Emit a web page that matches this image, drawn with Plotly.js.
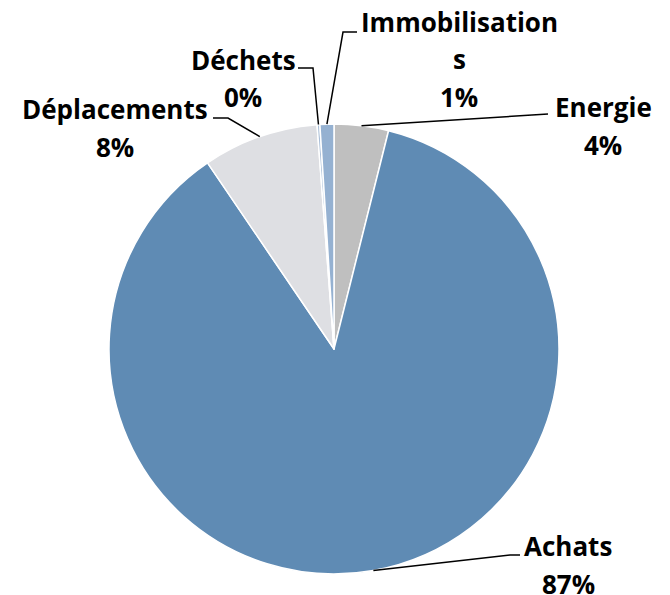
<!DOCTYPE html>
<html>
<head>
<meta charset="utf-8">
<script src="https://cdn.plot.ly/plotly-3.0.1.min.js"></script>
<style>html,body{margin:0;padding:0;background:#fff;}#chart{width:670px;height:595px;}</style>
</head>
<body>
<div id="chart"></div>
<script>
// ---- data ----
const categories = ['Energie', 'Achats', 'Déplacements', 'Déchets', 'Immobilisations'];
const values = [3.9, 86.6, 8.3, 0.2, 1.0];
const labelLines = [['Energie'], ['Achats'], ['Déplacements'], ['Déchets'], ['Immobilisation', 's']];
const colors = ['#BFBFBF', '#5F8BB4', '#DEDFE3', '#A9BED7', '#95B1D1'];

// ---- layout config (pixels) ----
const W = 670, H = 595;
const CX = 334, CY = 349, R = 225;
const labelPos = [[603, 107], [568, 546], [115, 109], [243, 60], [459, 22]];
const elbows = [[[548, 114]], [[510, 555], [520, 555]], [[228, 118], [213, 118]], [[313, 68], [298, 68]], [[343, 32], [357, 32]]];
const linePitch = 37.5;

const px = x => x / W;
const py = y => 1 - y / H;

const total = values.reduce((a, b) => a + b, 0);
let cum = 0;
const shapes = [];
const annotations = [];
values.forEach((v, i) => {
  const mid = (cum + v / 2) / total * 2 * Math.PI;
  cum += v;
  const sx = CX + R * Math.sin(mid);
  const sy = CY - R * Math.cos(mid);
  let path = 'M' + px(sx) + ',' + py(sy);
  elbows[i].forEach(p => { path += ' L' + px(p[0]) + ',' + py(p[1]); });
  shapes.push({type: 'path', xref: 'paper', yref: 'paper', path: path, line: {color: '#000', width: 1.5}});
  const lines = labelLines[i].concat([Math.round(v / total * 100) + '%']);
  lines.forEach((t, k) => {
    annotations.push({
      xref: 'paper', yref: 'paper', showarrow: false,
      x: px(labelPos[i][0]), y: py(labelPos[i][1] + k * linePitch),
      xanchor: 'center', yanchor: 'middle',
      text: t, borderpad: 0,
      font: {family: 'Open Sans, sans-serif', size: 26, color: '#000', weight: 'bold'}
    });
  });
});

const trace = {
  type: 'pie',
  labels: categories,
  values: values,
  sort: false,
  direction: 'clockwise',
  rotation: 0,
  textinfo: 'none',
  hoverinfo: 'none',
  showlegend: false,
  marker: {colors: colors, line: {color: '#FFFFFF', width: 1.5}},
  domain: {x: [(CX - R) / W, (CX + R) / W], y: [1 - (CY + R) / H, 1 - (CY - R) / H]}
};

Plotly.newPlot('chart', [trace], {
  width: W, height: H,
  margin: {l: 0, r: 0, t: 0, b: 0},
  paper_bgcolor: '#FFFFFF',
  shapes: shapes,
  annotations: annotations
}, {displayModeBar: false, staticPlot: true});
</script>
</body>
</html>
